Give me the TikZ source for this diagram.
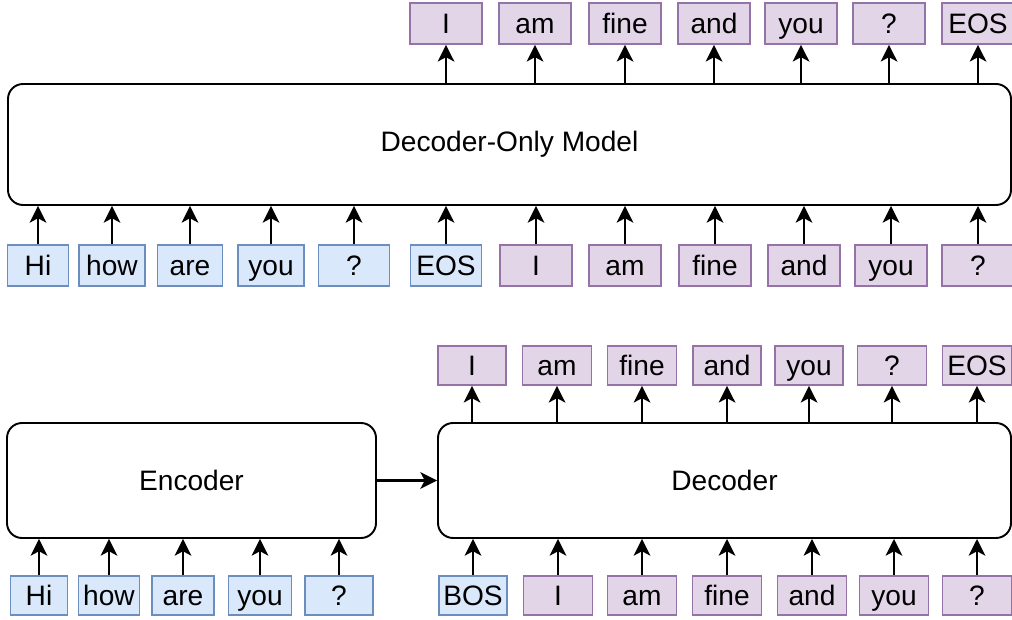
\documentclass[tikz,border=0pt]{standalone}
\usepackage{fontspec}
\usepackage{xcolor}
\usepackage{tikz}
\setmainfont{Liberation Sans}
\definecolor{tokenblue}{HTML}{DAE8FC}
\definecolor{tokenblueline}{HTML}{6C8EBF}
\definecolor{tokenpurple}{HTML}{E1D5E7}
\definecolor{tokenpurpleline}{HTML}{9673A6}
\usetikzlibrary{arrows.meta}

\begin{document}
\begin{tikzpicture}[font=\fontsize{16}{19}\selectfont,
	blocktok/.style = {draw = tokenblueline, fill = tokenblue, line width = 1pt, inner sep = 0pt, minimum height = 0.82cm, text height = 14.7pt, text depth = 3.2pt},
	purpletok/.style = {draw = tokenpurpleline, fill = tokenpurple, line width = 1pt, inner sep = 0pt, minimum height = 0.82cm, minimum width = 1.44cm, text height = 14.7pt, text depth = 3.2pt},
	model/.style = {draw, rounded corners = 0.3cm, line width = 1.1pt, inner sep = 0pt},
	arr/.style = {-{Stealth[length = 9.5pt, width = 9.5pt, inset = 2.5pt]}, line width = 1.2pt}]
	\useasboundingbox (0,0) rectangle (20.24,12.38);
	
	% decoder-only model
	\node[model, minimum width = 20.06cm, minimum height = 2.42cm] (dom) at (10.19,9.49) {Decoder-Only Model};
	
	\node[blocktok, minimum width = 1.22cm] (ti1) at (0.76,7.07) {Hi};
	\node[blocktok, minimum width = 1.32cm] (ti2) at (2.24,7.07) {how};
	\node[blocktok, minimum width = 1.30cm] (ti3) at (3.80,7.07) {are};
	\node[blocktok, minimum width = 1.32cm] (ti4) at (5.42,7.07) {you};
	\node[blocktok, minimum width = 1.42cm] (ti5) at (7.08,7.07) {?};
	\node[blocktok, minimum width = 1.42cm] (ti6) at (8.92,7.07) {EOS};
	\node[purpletok] (ti7) at (10.72,7.07) {I};
	\node[purpletok] (ti8) at (12.50,7.07) {am};
	\node[purpletok] (ti9) at (14.30,7.07) {fine};
	\node[purpletok] (ti10) at (16.08,7.07) {and};
	\node[purpletok] (ti11) at (17.82,7.07) {you};
	\node[purpletok] (ti12) at (19.56,7.07) {?};
	
	\node[purpletok] (to1) at (8.92,11.91) {I};
	\node[purpletok] (to2) at (10.70,11.91) {am};
	\node[purpletok] (to3) at (12.50,11.91) {fine};
	\node[purpletok] (to4) at (14.28,11.91) {and};
	\node[purpletok] (to5) at (16.02,11.91) {you};
	\node[purpletok] (to6) at (17.78,11.91) {?};
	\node[purpletok] (to7) at (19.56,11.91) {EOS};
	
	\draw[arr] (ti1) -- (ti1 |- dom.south);
	\draw[arr] (ti2) -- (ti2 |- dom.south);
	\draw[arr] (ti3) -- (ti3 |- dom.south);
	\draw[arr] (ti4) -- (ti4 |- dom.south);
	\draw[arr] (ti5) -- (ti5 |- dom.south);
	\draw[arr] (ti6) -- (ti6 |- dom.south);
	\draw[arr] (ti7) -- (ti7 |- dom.south);
	\draw[arr] (ti8) -- (ti8 |- dom.south);
	\draw[arr] (ti9) -- (ti9 |- dom.south);
	\draw[arr] (ti10) -- (ti10 |- dom.south);
	\draw[arr] (ti11) -- (ti11 |- dom.south);
	\draw[arr] (ti12) -- (ti12 |- dom.south);
	
	\draw[arr] (to1 |- dom.north) -- (to1);
	\draw[arr] (to2 |- dom.north) -- (to2);
	\draw[arr] (to3 |- dom.north) -- (to3);
	\draw[arr] (to4 |- dom.north) -- (to4);
	\draw[arr] (to5 |- dom.north) -- (to5);
	\draw[arr] (to6 |- dom.north) -- (to6);
	\draw[arr] (to7 |- dom.north) -- (to7);
	
	% encoder - decoder
	\node[model, minimum width = 7.38cm, minimum height = 2.30cm] (enc) at (3.83,2.77) {Encoder};
	\node[model, minimum width = 11.46cm, minimum height = 2.30cm] (dec) at (14.49,2.77) {Decoder};
	
	\node[blocktok, minimum height = 0.78cm, minimum width = 1.14cm] (ei1) at (0.78,0.47) {Hi};
	\node[blocktok, minimum height = 0.78cm, minimum width = 1.22cm] (ei2) at (2.18,0.47) {how};
	\node[blocktok, minimum height = 0.78cm, minimum width = 1.24cm] (ei3) at (3.66,0.47) {are};
	\node[blocktok, minimum height = 0.78cm, minimum width = 1.26cm] (ei4) at (5.20,0.47) {you};
	\node[blocktok, minimum height = 0.78cm, minimum width = 1.36cm] (ei5) at (6.78,0.47) {?};
	
	\node[blocktok, minimum height = 0.78cm, minimum width = 1.36cm] (di1) at (9.46,0.47) {BOS};
	\node[purpletok, minimum height = 0.78cm, minimum width = 1.38cm] (di2) at (11.16,0.47) {I};
	\node[purpletok, minimum height = 0.78cm, minimum width = 1.38cm] (di3) at (12.84,0.47) {am};
	\node[purpletok, minimum height = 0.78cm, minimum width = 1.38cm] (di4) at (14.54,0.47) {fine};
	\node[purpletok, minimum height = 0.78cm, minimum width = 1.38cm] (di5) at (16.24,0.47) {and};
	\node[purpletok, minimum height = 0.78cm, minimum width = 1.38cm] (di6) at (17.88,0.47) {you};
	\node[purpletok, minimum height = 0.78cm, minimum width = 1.38cm] (di7) at (19.54,0.47) {?};
	
	\node[purpletok, minimum height = 0.78cm, minimum width = 1.36cm] (do1) at (9.44,5.07) {I};
	\node[purpletok, minimum height = 0.78cm, minimum width = 1.38cm] (do2) at (11.14,5.07) {am};
	\node[purpletok, minimum height = 0.78cm, minimum width = 1.38cm] (do3) at (12.84,5.07) {fine};
	\node[purpletok, minimum height = 0.78cm, minimum width = 1.36cm] (do4) at (14.54,5.07) {and};
	\node[purpletok, minimum height = 0.78cm, minimum width = 1.36cm] (do5) at (16.18,5.07) {you};
	\node[purpletok, minimum height = 0.78cm, minimum width = 1.38cm] (do6) at (17.84,5.07) {?};
	\node[purpletok, minimum height = 0.78cm, minimum width = 1.38cm] (do7) at (19.54,5.07) {EOS};
	
	\draw[arr] (ei1) -- (ei1 |- enc.south);
	\draw[arr] (ei2) -- (ei2 |- enc.south);
	\draw[arr] (ei3) -- (ei3 |- enc.south);
	\draw[arr] (ei4) -- (ei4 |- enc.south);
	\draw[arr] (ei5) -- (ei5 |- enc.south);
	
	\draw[arr] (di1) -- (di1 |- dec.south);
	\draw[arr] (di2) -- (di2 |- dec.south);
	\draw[arr] (di3) -- (di3 |- dec.south);
	\draw[arr] (di4) -- (di4 |- dec.south);
	\draw[arr] (di5) -- (di5 |- dec.south);
	\draw[arr] (di6) -- (di6 |- dec.south);
	\draw[arr] (di7) -- (di7 |- dec.south);
	
	\draw[arr] (do1 |- dec.north) -- (do1);
	\draw[arr] (do2 |- dec.north) -- (do2);
	\draw[arr] (do3 |- dec.north) -- (do3);
	\draw[arr] (do4 |- dec.north) -- (do4);
	\draw[arr] (do5 |- dec.north) -- (do5);
	\draw[arr] (do6 |- dec.north) -- (do6);
	\draw[arr] (do7 |- dec.north) -- (do7);
	
	\draw[arr] (enc) -- (dec);
	
\end{tikzpicture}
\end{document}
